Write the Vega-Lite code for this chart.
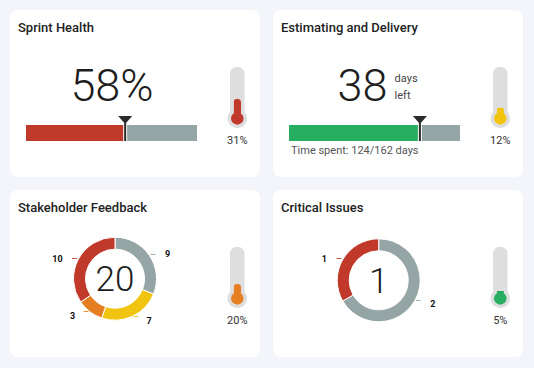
{
  "$schema": "https://vega.github.io/schema/vega-lite/v6.json",
  "background": "#f3f5fa",
  "padding": {"left": 10, "top": 10, "right": 11, "bottom": 11},
  "config": {
    "font": "Roboto",
    "view": {"fill": "#ffffff", "stroke": null, "cornerRadius": 8},
    "text": {"font": "Roboto"},
    "title": {"anchor": "start", "frame": "group", "offset": -25, "dx": 8, "baseline": "alphabetic", "fontSize": 13, "fontWeight": 500, "color": "#222222", "font": "Roboto"}
  },
  "datasets": {
    "feedback": [
      {"metric": "Stakeholder Feedback", "feedback": "Neutral", "count": 9},
      {"metric": "Stakeholder Feedback", "feedback": "Minor concerns", "count": 7},
      {"metric": "Stakeholder Feedback", "feedback": "Major concerns", "count": 3},
      {"metric": "Stakeholder Feedback", "feedback": "Negative", "count": 10}
    ],
    "issues": [
      {"metric": "Critical Issues", "issue": "Other open", "count": 2},
      {"metric": "Critical Issues", "issue": "Critical", "count": 1}
    ]
  },
  "spacing": 13,
  "resolve": {"scale": {"color": "independent", "theta": "independent"}},
  "vconcat": [
    {
      "spacing": 13,
      "resolve": {"scale": {"color": "independent", "theta": "independent"}},
      "hconcat": [
        {
          "width": 250, "height": 167,
          "title": "Sprint Health",
          "data": {"values": [{"metric": "Sprint Health", "health": 0.58, "health_max": 1, "risk": 0.31, "risk_max": 1}]},
          "resolve": {"scale": {"x": "independent", "y": "independent"}},
          "layer": [
            {"mark": {"type": "bar", "color": "#95a5a6"},
             "encoding": {"x": {"field": "health_max", "type": "quantitative", "axis": null, "scale": {"domain": [0, 1], "range": [16, 187], "nice": false}},
                          "y": {"field": "metric", "type": "nominal", "axis": null, "scale": {"type": "band", "range": [115, 131], "paddingInner": 0, "paddingOuter": 0}}}},
            {"mark": {"type": "bar", "color": "#c0392b"},
             "encoding": {"x": {"field": "health", "type": "quantitative", "axis": null, "scale": {"domain": [0, 1], "range": [16, 187], "nice": false}},
                          "y": {"field": "metric", "type": "nominal", "axis": null, "scale": {"type": "band", "range": [115, 131], "paddingInner": 0, "paddingOuter": 0}}}},
            {"mark": {"type": "point", "shape": "M-0.118,-0.471L0.118,-0.471L0.118,0.471L-0.118,0.471Z", "size": 1156, "filled": true, "opacity": 1, "color": "#ffffff"},
             "encoding": {"x": {"field": "health", "type": "quantitative", "axis": null, "scale": {"domain": [0, 1], "range": [16, 187], "nice": false}},
                          "y": {"field": "metric", "type": "nominal", "axis": null, "scale": {"type": "point", "range": [115, 131]}}}},
            {"mark": {"type": "point", "shape": "M-0.412,-1L0.412,-1L0,-0.529ZM-0.059,-0.882L0.059,-0.882L0.059,0.471L-0.059,0.471Z", "size": 1156, "filled": true, "opacity": 1, "color": "#2b2b2b"},
             "encoding": {"x": {"field": "health", "type": "quantitative", "axis": null, "scale": {"domain": [0, 1], "range": [16, 187], "nice": false}},
                          "y": {"field": "metric", "type": "nominal", "axis": null, "scale": {"type": "point", "range": [115, 131]}}}},
            {"mark": {"type": "text", "fontSize": 45, "fontWeight": 300, "align": "center", "baseline": "alphabetic", "color": "#1d1d1d", "dx": 0.5},
             "encoding": {"text": {"field": "health", "type": "quantitative", "format": ".0%"},
                          "x": {"field": "metric", "type": "nominal", "axis": null, "scale": {"type": "point", "range": [16, 187]}},
                          "y": {"field": "metric", "type": "nominal", "axis": null, "scale": {"type": "point", "range": [71, 111]}}}},
            {"mark": {"type": "bar", "color": "#dedede", "cornerRadiusEnd": 7.5},
             "encoding": {"x": {"field": "metric", "type": "nominal", "axis": null, "scale": {"type": "band", "range": [219.8, 234.8], "paddingInner": 0, "paddingOuter": 0}},
                          "y": {"field": "risk_max", "type": "quantitative", "axis": null, "scale": {"domain": [0, 1], "range": [103, 56.7], "nice": false}}}},
            {"mark": {"type": "point", "shape": "circle", "size": 380, "filled": true, "opacity": 1, "color": "#dedede"},
             "encoding": {"x": {"field": "metric", "type": "nominal", "axis": null, "scale": {"type": "point", "range": [219.8, 234.8]}},
                          "y": {"field": "metric", "type": "nominal", "axis": null, "scale": {"type": "point", "range": [98.4, 118.4]}}}},
            {"mark": {"type": "bar", "color": "#c0392b", "cornerRadiusEnd": 3.75, "width": {"band": 0.5}},
             "encoding": {"x": {"field": "metric", "type": "nominal", "axis": null, "scale": {"type": "band", "range": [219.8, 234.8], "paddingInner": 0, "paddingOuter": 0}},
                          "y": {"field": "risk", "type": "quantitative", "axis": null, "scale": {"domain": [0, 1], "range": [103, 56.7], "nice": false}}}},
            {"mark": {"type": "point", "shape": "circle", "size": 156, "filled": true, "opacity": 1, "color": "#c0392b"},
             "encoding": {"x": {"field": "metric", "type": "nominal", "axis": null, "scale": {"type": "point", "range": [219.8, 234.8]}},
                          "y": {"field": "metric", "type": "nominal", "axis": null, "scale": {"type": "point", "range": [98.4, 118.4]}}}},
            {"mark": {"type": "text", "fontSize": 11, "align": "center", "baseline": "alphabetic", "color": "#333333"},
             "encoding": {"text": {"field": "risk", "type": "quantitative", "format": ".0%"},
                          "x": {"field": "metric", "type": "nominal", "axis": null, "scale": {"type": "point", "range": [219.8, 234.8]}},
                          "y": {"field": "metric", "type": "nominal", "axis": null, "scale": {"type": "point", "range": [124, 144]}}}}
          ]
        },
        {
          "width": 250, "height": 167,
          "title": "Estimating and Delivery",
          "data": {"values": [{"metric": "Estimating and Delivery", "spent": 124, "total": 162, "days_left": 38, "caption": "Time spent: 124/162 days", "risk": 0.12, "risk_max": 1}]},
          "resolve": {"scale": {"x": "independent", "y": "independent"}},
          "layer": [
            {"mark": {"type": "bar", "color": "#95a5a6"},
             "encoding": {"x": {"field": "total", "type": "quantitative", "axis": null, "scale": {"domain": [0, 162], "range": [16, 187], "nice": false}},
                          "y": {"field": "metric", "type": "nominal", "axis": null, "scale": {"type": "band", "range": [115, 131], "paddingInner": 0, "paddingOuter": 0}}}},
            {"mark": {"type": "bar", "color": "#27ae60"},
             "encoding": {"x": {"field": "spent", "type": "quantitative", "axis": null, "scale": {"domain": [0, 162], "range": [16, 187], "nice": false}},
                          "y": {"field": "metric", "type": "nominal", "axis": null, "scale": {"type": "band", "range": [115, 131], "paddingInner": 0, "paddingOuter": 0}}}},
            {"mark": {"type": "point", "shape": "M-0.118,-0.471L0.118,-0.471L0.118,0.471L-0.118,0.471Z", "size": 1156, "filled": true, "opacity": 1, "color": "#ffffff"},
             "encoding": {"x": {"field": "spent", "type": "quantitative", "axis": null, "scale": {"domain": [0, 162], "range": [16, 187], "nice": false}},
                          "y": {"field": "metric", "type": "nominal", "axis": null, "scale": {"type": "point", "range": [115, 131]}}}},
            {"mark": {"type": "point", "shape": "M-0.412,-1L0.412,-1L0,-0.529ZM-0.059,-0.882L0.059,-0.882L0.059,0.471L-0.059,0.471Z", "size": 1156, "filled": true, "opacity": 1, "color": "#2b2b2b"},
             "encoding": {"x": {"field": "spent", "type": "quantitative", "axis": null, "scale": {"domain": [0, 162], "range": [16, 187], "nice": false}},
                          "y": {"field": "metric", "type": "nominal", "axis": null, "scale": {"type": "point", "range": [115, 131]}}}},
            {"mark": {"type": "text", "fontSize": 45, "fontWeight": 300, "align": "right", "baseline": "alphabetic", "color": "#1d1d1d"},
             "encoding": {"text": {"field": "days_left", "type": "quantitative"},
                          "x": {"field": "metric", "type": "nominal", "axis": null, "scale": {"type": "point", "range": [104.5, 124.5]}},
                          "y": {"field": "metric", "type": "nominal", "axis": null, "scale": {"type": "point", "range": [71, 111]}}}},
            {"mark": {"type": "text", "fontSize": 11, "align": "left", "baseline": "alphabetic", "color": "#444444"},
             "encoding": {"text": {"value": "days"},
                          "x": {"field": "metric", "type": "nominal", "axis": null, "scale": {"type": "point", "range": [111.6, 131.6]}},
                          "y": {"field": "metric", "type": "nominal", "axis": null, "scale": {"type": "point", "range": [61.7, 81.7]}}}},
            {"mark": {"type": "text", "fontSize": 11, "align": "left", "baseline": "alphabetic", "color": "#444444"},
             "encoding": {"text": {"value": "left"},
                          "x": {"field": "metric", "type": "nominal", "axis": null, "scale": {"type": "point", "range": [111.6, 131.6]}},
                          "y": {"field": "metric", "type": "nominal", "axis": null, "scale": {"type": "point", "range": [79, 99]}}}},
            {"mark": {"type": "text", "fontSize": 11, "align": "left", "baseline": "alphabetic", "color": "#555555"},
             "encoding": {"text": {"field": "caption", "type": "nominal"},
                          "x": {"field": "metric", "type": "nominal", "axis": null, "scale": {"type": "point", "range": [8, 28]}},
                          "y": {"field": "metric", "type": "nominal", "axis": null, "scale": {"type": "point", "range": [134.3, 154.3]}}}},
            {"mark": {"type": "bar", "color": "#dedede", "cornerRadiusEnd": 7.5},
             "encoding": {"x": {"field": "metric", "type": "nominal", "axis": null, "scale": {"type": "band", "range": [219.8, 234.8], "paddingInner": 0, "paddingOuter": 0}},
                          "y": {"field": "risk_max", "type": "quantitative", "axis": null, "scale": {"domain": [0, 1], "range": [103, 56.7], "nice": false}}}},
            {"mark": {"type": "point", "shape": "circle", "size": 380, "filled": true, "opacity": 1, "color": "#dedede"},
             "encoding": {"x": {"field": "metric", "type": "nominal", "axis": null, "scale": {"type": "point", "range": [219.8, 234.8]}},
                          "y": {"field": "metric", "type": "nominal", "axis": null, "scale": {"type": "point", "range": [98.4, 118.4]}}}},
            {"mark": {"type": "bar", "color": "#f1c40f", "cornerRadiusEnd": 3.75, "width": {"band": 0.5}},
             "encoding": {"x": {"field": "metric", "type": "nominal", "axis": null, "scale": {"type": "band", "range": [219.8, 234.8], "paddingInner": 0, "paddingOuter": 0}},
                          "y": {"field": "risk", "type": "quantitative", "axis": null, "scale": {"domain": [0, 1], "range": [103, 56.7], "nice": false}}}},
            {"mark": {"type": "point", "shape": "circle", "size": 156, "filled": true, "opacity": 1, "color": "#f1c40f"},
             "encoding": {"x": {"field": "metric", "type": "nominal", "axis": null, "scale": {"type": "point", "range": [219.8, 234.8]}},
                          "y": {"field": "metric", "type": "nominal", "axis": null, "scale": {"type": "point", "range": [98.4, 118.4]}}}},
            {"mark": {"type": "text", "fontSize": 11, "align": "center", "baseline": "alphabetic", "color": "#333333"},
             "encoding": {"text": {"field": "risk", "type": "quantitative", "format": ".0%"},
                          "x": {"field": "metric", "type": "nominal", "axis": null, "scale": {"type": "point", "range": [219.8, 234.8]}},
                          "y": {"field": "metric", "type": "nominal", "axis": null, "scale": {"type": "point", "range": [124, 144]}}}}
          ]
        }
      ]
    },
    {
      "spacing": 13,
      "resolve": {"scale": {"color": "independent", "theta": "independent"}},
      "hconcat": [
        {
          "width": 250, "height": 167,
          "title": "Stakeholder Feedback",
          "data": {"values": [{"metric": "Stakeholder Feedback", "stakeholders": 20, "risk": 0.2, "risk_max": 1}]},
          "resolve": {"scale": {"x": "independent", "y": "independent"}},
          "layer": [
            {"data": {"name": "feedback"},
             "transform": [{"window": [{"op": "row_number", "as": "rank"}]}, {"joinaggregate": [{"op": "sum", "field": "count", "as": "total"}]}],
             "mark": {"type": "arc", "innerRadius": 29.5, "outerRadius": 41.5, "stroke": "#ffffff", "strokeWidth": 1},
             "encoding": {
               "x": {"field": "metric", "type": "nominal", "axis": null, "scale": {"type": "point", "range": [63.5, 146.5]}},
               "y": {"field": "metric", "type": "nominal", "axis": null, "scale": {"type": "point", "range": [47.2, 130.2]}},
               "theta": {"field": "count", "type": "quantitative", "stack": true},
               "order": {"field": "rank", "type": "quantitative"},
               "color": {"field": "feedback", "type": "nominal", "legend": null, "scale": {"domain": ["Neutral", "Minor concerns", "Major concerns", "Negative"], "range": ["#95a5a6", "#f1c40f", "#e67e22", "#c0392b"]}}
             }},
            {"data": {"name": "feedback"},
             "transform": [{"window": [{"op": "row_number", "as": "rank"}]}, {"joinaggregate": [{"op": "sum", "field": "count", "as": "total"}]}],
             "mark": {"type": "text", "radius": 42, "align": "left", "baseline": "middle", "fontSize": 10},
             "encoding": {
               "x": {"field": "metric", "type": "nominal", "axis": null, "scale": {"type": "point", "range": [63.5, 146.5]}},
               "y": {"field": "metric", "type": "nominal", "axis": null, "scale": {"type": "point", "range": [47.2, 130.2]}},
               "theta": {"field": "count", "type": "quantitative", "stack": true},
               "order": {"field": "rank", "type": "quantitative"},
               "color": {"field": "feedback", "type": "nominal", "legend": null, "scale": {"domain": ["Neutral", "Minor concerns", "Major concerns", "Negative"], "range": ["#95a5a6", "#f1c40f", "#e67e22", "#c0392b"]}},
               "text": {"condition": {"test": "datum.count_start + datum.count_end < datum.total", "value": "–"}, "value": ""}
             }},
            {"data": {"name": "feedback"},
             "transform": [{"window": [{"op": "row_number", "as": "rank"}]}, {"joinaggregate": [{"op": "sum", "field": "count", "as": "total"}]}],
             "mark": {"type": "text", "radius": 42, "align": "right", "baseline": "middle", "fontSize": 10},
             "encoding": {
               "x": {"field": "metric", "type": "nominal", "axis": null, "scale": {"type": "point", "range": [63.5, 146.5]}},
               "y": {"field": "metric", "type": "nominal", "axis": null, "scale": {"type": "point", "range": [47.2, 130.2]}},
               "theta": {"field": "count", "type": "quantitative", "stack": true},
               "order": {"field": "rank", "type": "quantitative"},
               "color": {"field": "feedback", "type": "nominal", "legend": null, "scale": {"domain": ["Neutral", "Minor concerns", "Major concerns", "Negative"], "range": ["#95a5a6", "#f1c40f", "#e67e22", "#c0392b"]}},
               "text": {"condition": {"test": "datum.count_start + datum.count_end >= datum.total", "value": "–"}, "value": ""}
             }},
            {"data": {"name": "feedback"},
             "transform": [{"window": [{"op": "row_number", "as": "rank"}]}, {"joinaggregate": [{"op": "sum", "field": "count", "as": "total"}]}],
             "mark": {"type": "text", "radius": 45, "align": "left", "baseline": "middle", "dx": 12.7, "dy": 1, "fontSize": 9, "fontWeight": "bold", "color": "#111111"},
             "encoding": {
               "x": {"field": "metric", "type": "nominal", "axis": null, "scale": {"type": "point", "range": [63.5, 146.5]}},
               "y": {"field": "metric", "type": "nominal", "axis": null, "scale": {"type": "point", "range": [47.2, 130.2]}},
               "theta": {"field": "count", "type": "quantitative", "stack": true},
               "order": {"field": "rank", "type": "quantitative"},
               "detail": {"field": "feedback", "type": "nominal"},
               "text": {"condition": {"test": "datum.count_start + datum.count_end < datum.total", "field": "count", "type": "quantitative"}, "value": ""}
             }},
            {"data": {"name": "feedback"},
             "transform": [{"window": [{"op": "row_number", "as": "rank"}]}, {"joinaggregate": [{"op": "sum", "field": "count", "as": "total"}]}],
             "mark": {"type": "text", "radius": 45, "align": "right", "baseline": "middle", "dx": -12.7, "dy": 1, "fontSize": 9, "fontWeight": "bold", "color": "#111111"},
             "encoding": {
               "x": {"field": "metric", "type": "nominal", "axis": null, "scale": {"type": "point", "range": [63.5, 146.5]}},
               "y": {"field": "metric", "type": "nominal", "axis": null, "scale": {"type": "point", "range": [47.2, 130.2]}},
               "theta": {"field": "count", "type": "quantitative", "stack": true},
               "order": {"field": "rank", "type": "quantitative"},
               "detail": {"field": "feedback", "type": "nominal"},
               "text": {"condition": {"test": "datum.count_start + datum.count_end >= datum.total", "field": "count", "type": "quantitative"}, "value": ""}
             }},
            {"mark": {"type": "text", "fontSize": 35, "fontWeight": 300, "align": "center", "baseline": "alphabetic", "dy": 12.6, "color": "#1d1d1d"},
             "encoding": {
               "text": {"field": "stakeholders", "type": "quantitative"},
               "x": {"field": "metric", "type": "nominal", "axis": null, "scale": {"type": "point", "range": [63.5, 146.5]}},
               "y": {"field": "metric", "type": "nominal", "axis": null, "scale": {"type": "point", "range": [47.2, 130.2]}}
             }},
            {"mark": {"type": "bar", "color": "#dedede", "cornerRadiusEnd": 7.5},
             "encoding": {"x": {"field": "metric", "type": "nominal", "axis": null, "scale": {"type": "band", "range": [219.8, 234.8], "paddingInner": 0, "paddingOuter": 0}},
                          "y": {"field": "risk_max", "type": "quantitative", "axis": null, "scale": {"domain": [0, 1], "range": [103, 56.7], "nice": false}}}},
            {"mark": {"type": "point", "shape": "circle", "size": 380, "filled": true, "opacity": 1, "color": "#dedede"},
             "encoding": {"x": {"field": "metric", "type": "nominal", "axis": null, "scale": {"type": "point", "range": [219.8, 234.8]}},
                          "y": {"field": "metric", "type": "nominal", "axis": null, "scale": {"type": "point", "range": [98.4, 118.4]}}}},
            {"mark": {"type": "bar", "color": "#e67e22", "cornerRadiusEnd": 3.75, "width": {"band": 0.5}},
             "encoding": {"x": {"field": "metric", "type": "nominal", "axis": null, "scale": {"type": "band", "range": [219.8, 234.8], "paddingInner": 0, "paddingOuter": 0}},
                          "y": {"field": "risk", "type": "quantitative", "axis": null, "scale": {"domain": [0, 1], "range": [103, 56.7], "nice": false}}}},
            {"mark": {"type": "point", "shape": "circle", "size": 156, "filled": true, "opacity": 1, "color": "#e67e22"},
             "encoding": {"x": {"field": "metric", "type": "nominal", "axis": null, "scale": {"type": "point", "range": [219.8, 234.8]}},
                          "y": {"field": "metric", "type": "nominal", "axis": null, "scale": {"type": "point", "range": [98.4, 118.4]}}}},
            {"mark": {"type": "text", "fontSize": 11, "align": "center", "baseline": "alphabetic", "color": "#333333"},
             "encoding": {"text": {"field": "risk", "type": "quantitative", "format": ".0%"},
                          "x": {"field": "metric", "type": "nominal", "axis": null, "scale": {"type": "point", "range": [219.8, 234.8]}},
                          "y": {"field": "metric", "type": "nominal", "axis": null, "scale": {"type": "point", "range": [124, 144]}}}}
          ]
        },
        {
          "width": 250, "height": 167,
          "title": "Critical Issues",
          "data": {"values": [{"metric": "Critical Issues", "critical": 1, "risk": 0.05, "risk_max": 1}]},
          "resolve": {"scale": {"x": "independent", "y": "independent"}},
          "layer": [
            {"data": {"name": "issues"},
             "transform": [{"window": [{"op": "row_number", "as": "rank"}]}, {"joinaggregate": [{"op": "sum", "field": "count", "as": "total"}]}],
             "mark": {"type": "arc", "innerRadius": 29.5, "outerRadius": 41.5, "stroke": "#ffffff", "strokeWidth": 1},
             "encoding": {
               "x": {"field": "metric", "type": "nominal", "axis": null, "scale": {"type": "point", "range": [64.2, 147.2]}},
               "y": {"field": "metric", "type": "nominal", "axis": null, "scale": {"type": "point", "range": [48.8, 131.8]}},
               "theta": {"field": "count", "type": "quantitative", "stack": true},
               "order": {"field": "rank", "type": "quantitative"},
               "color": {"field": "issue", "type": "nominal", "legend": null, "scale": {"domain": ["Other open", "Critical"], "range": ["#95a5a6", "#c0392b"]}}
             }},
            {"data": {"name": "issues"},
             "transform": [{"window": [{"op": "row_number", "as": "rank"}]}, {"joinaggregate": [{"op": "sum", "field": "count", "as": "total"}]}],
             "mark": {"type": "text", "radius": 42, "align": "left", "baseline": "middle", "fontSize": 10},
             "encoding": {
               "x": {"field": "metric", "type": "nominal", "axis": null, "scale": {"type": "point", "range": [64.2, 147.2]}},
               "y": {"field": "metric", "type": "nominal", "axis": null, "scale": {"type": "point", "range": [48.8, 131.8]}},
               "theta": {"field": "count", "type": "quantitative", "stack": true},
               "order": {"field": "rank", "type": "quantitative"},
               "color": {"field": "issue", "type": "nominal", "legend": null, "scale": {"domain": ["Other open", "Critical"], "range": ["#95a5a6", "#c0392b"]}},
               "text": {"condition": {"test": "datum.count_start + datum.count_end < datum.total", "value": "–"}, "value": ""}
             }},
            {"data": {"name": "issues"},
             "transform": [{"window": [{"op": "row_number", "as": "rank"}]}, {"joinaggregate": [{"op": "sum", "field": "count", "as": "total"}]}],
             "mark": {"type": "text", "radius": 42, "align": "right", "baseline": "middle", "fontSize": 10},
             "encoding": {
               "x": {"field": "metric", "type": "nominal", "axis": null, "scale": {"type": "point", "range": [64.2, 147.2]}},
               "y": {"field": "metric", "type": "nominal", "axis": null, "scale": {"type": "point", "range": [48.8, 131.8]}},
               "theta": {"field": "count", "type": "quantitative", "stack": true},
               "order": {"field": "rank", "type": "quantitative"},
               "color": {"field": "issue", "type": "nominal", "legend": null, "scale": {"domain": ["Other open", "Critical"], "range": ["#95a5a6", "#c0392b"]}},
               "text": {"condition": {"test": "datum.count_start + datum.count_end >= datum.total", "value": "–"}, "value": ""}
             }},
            {"data": {"name": "issues"},
             "transform": [{"window": [{"op": "row_number", "as": "rank"}]}, {"joinaggregate": [{"op": "sum", "field": "count", "as": "total"}]}],
             "mark": {"type": "text", "radius": 45, "align": "left", "baseline": "middle", "dx": 12.7, "dy": 1, "fontSize": 9, "fontWeight": "bold", "color": "#111111"},
             "encoding": {
               "x": {"field": "metric", "type": "nominal", "axis": null, "scale": {"type": "point", "range": [64.2, 147.2]}},
               "y": {"field": "metric", "type": "nominal", "axis": null, "scale": {"type": "point", "range": [48.8, 131.8]}},
               "theta": {"field": "count", "type": "quantitative", "stack": true},
               "order": {"field": "rank", "type": "quantitative"},
               "detail": {"field": "issue", "type": "nominal"},
               "text": {"condition": {"test": "datum.count_start + datum.count_end < datum.total", "field": "count", "type": "quantitative"}, "value": ""}
             }},
            {"data": {"name": "issues"},
             "transform": [{"window": [{"op": "row_number", "as": "rank"}]}, {"joinaggregate": [{"op": "sum", "field": "count", "as": "total"}]}],
             "mark": {"type": "text", "radius": 45, "align": "right", "baseline": "middle", "dx": -12.7, "dy": 1, "fontSize": 9, "fontWeight": "bold", "color": "#111111"},
             "encoding": {
               "x": {"field": "metric", "type": "nominal", "axis": null, "scale": {"type": "point", "range": [64.2, 147.2]}},
               "y": {"field": "metric", "type": "nominal", "axis": null, "scale": {"type": "point", "range": [48.8, 131.8]}},
               "theta": {"field": "count", "type": "quantitative", "stack": true},
               "order": {"field": "rank", "type": "quantitative"},
               "detail": {"field": "issue", "type": "nominal"},
               "text": {"condition": {"test": "datum.count_start + datum.count_end >= datum.total", "field": "count", "type": "quantitative"}, "value": ""}
             }},
            {"mark": {"type": "text", "fontSize": 35, "fontWeight": 300, "align": "center", "baseline": "alphabetic", "dy": 13, "color": "#1d1d1d"},
             "encoding": {
               "text": {"field": "critical", "type": "quantitative"},
               "x": {"field": "metric", "type": "nominal", "axis": null, "scale": {"type": "point", "range": [64.2, 147.2]}},
               "y": {"field": "metric", "type": "nominal", "axis": null, "scale": {"type": "point", "range": [48.8, 131.8]}}
             }},
            {"mark": {"type": "bar", "color": "#dedede", "cornerRadiusEnd": 7.5},
             "encoding": {"x": {"field": "metric", "type": "nominal", "axis": null, "scale": {"type": "band", "range": [219.8, 234.8], "paddingInner": 0, "paddingOuter": 0}},
                          "y": {"field": "risk_max", "type": "quantitative", "axis": null, "scale": {"domain": [0, 1], "range": [103, 56.7], "nice": false}}}},
            {"mark": {"type": "point", "shape": "circle", "size": 380, "filled": true, "opacity": 1, "color": "#dedede"},
             "encoding": {"x": {"field": "metric", "type": "nominal", "axis": null, "scale": {"type": "point", "range": [219.8, 234.8]}},
                          "y": {"field": "metric", "type": "nominal", "axis": null, "scale": {"type": "point", "range": [98.4, 118.4]}}}},
            {"mark": {"type": "bar", "color": "#27ae60", "cornerRadiusEnd": 3.75, "width": {"band": 0.5}},
             "encoding": {"x": {"field": "metric", "type": "nominal", "axis": null, "scale": {"type": "band", "range": [219.8, 234.8], "paddingInner": 0, "paddingOuter": 0}},
                          "y": {"field": "risk", "type": "quantitative", "axis": null, "scale": {"domain": [0, 1], "range": [103, 56.7], "nice": false}}}},
            {"mark": {"type": "point", "shape": "circle", "size": 156, "filled": true, "opacity": 1, "color": "#27ae60"},
             "encoding": {"x": {"field": "metric", "type": "nominal", "axis": null, "scale": {"type": "point", "range": [219.8, 234.8]}},
                          "y": {"field": "metric", "type": "nominal", "axis": null, "scale": {"type": "point", "range": [98.4, 118.4]}}}},
            {"mark": {"type": "text", "fontSize": 11, "align": "center", "baseline": "alphabetic", "color": "#333333"},
             "encoding": {"text": {"field": "risk", "type": "quantitative", "format": ".0%"},
                          "x": {"field": "metric", "type": "nominal", "axis": null, "scale": {"type": "point", "range": [219.8, 234.8]}},
                          "y": {"field": "metric", "type": "nominal", "axis": null, "scale": {"type": "point", "range": [124, 144]}}}}
          ]
        }
      ]
    }
  ]
}
